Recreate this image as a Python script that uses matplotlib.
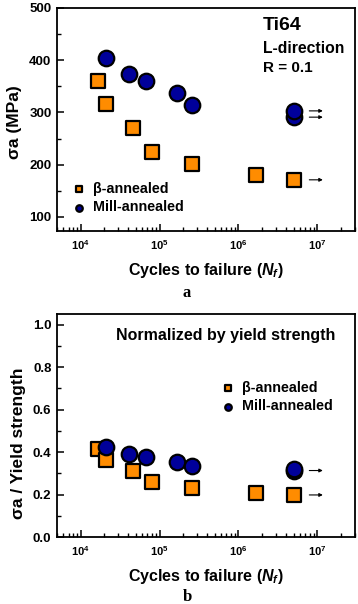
import matplotlib
matplotlib.use("Agg")
import matplotlib.pyplot as plt
from matplotlib.ticker import FuncFormatter, MultipleLocator, LogLocator
import numpy as np

plt.rcParams['font.family'] = ['Liberation Sans', 'DejaVu Sans']
plt.rcParams['font.weight'] = 'bold'
plt.rcParams['axes.labelweight'] = 'bold'
plt.rcParams['mathtext.fontset'] = 'custom'
plt.rcParams['mathtext.rm'] = 'Liberation Sans:bold'
plt.rcParams['mathtext.bf'] = 'Liberation Sans:bold'
plt.rcParams['mathtext.it'] = 'Liberation Sans:bold:italic'
plt.rcParams['axes.linewidth'] = 1.3

# ---- data ----
# beta-annealed (squares)
beta_N = [1.67e4, 2.07e4, 4.6e4, 8.1e4, 2.6e5, 1.66e6, 5.1e6]
beta_S = [360, 316, 270, 225, 202, 180, 171]
beta_norm = [0.414, 0.362, 0.311, 0.259, 0.233, 0.207, 0.198]

# mill-annealed (circles)
mill_N = [2.07e4, 4.1e4, 6.8e4, 1.67e5, 2.6e5, 5.1e6, 5.1e6]
mill_S = [405, 374, 360, 338, 315, 292, 303]
mill_norm = [0.426, 0.392, 0.379, 0.355, 0.332, 0.31, 0.32]

# run-outs (arrows)
beta_runout = [(5.1e6, 171)]
mill_runout = [(5.1e6, 303), (5.1e6, 291)]
beta_runout_norm = [(5.1e6, 0.198)]
mill_runout_norm = [(5.1e6, 0.313)]

orange = '#FF8C00'
navy = '#00009A'

fig = plt.figure(figsize=(3.58, 6.04), dpi=100)
ax1 = fig.add_axes([57/358, 1-231/604, 298/358, 223/604])
ax2 = fig.add_axes([57/358, 1-537/604, 298/358, 223/604])


def fmt_log(v, pos):
    e = int(round(np.log10(v)))
    return r'$\mathbf{10^{%d}}$' % e


def style(ax):
    ax.set_xscale('log')
    ax.set_xlim(5e3, 3e7)
    ax.xaxis.set_major_locator(LogLocator(base=10, numticks=10))
    ax.xaxis.set_minor_locator(LogLocator(base=10, subs=np.arange(2, 10), numticks=10))
    ax.xaxis.set_major_formatter(FuncFormatter(fmt_log))
    ax.tick_params(which='both', direction='in', top=False, right=False)
    ax.tick_params(axis='x', which='major', length=5, width=1.1, labelsize=8, pad=5)
    ax.tick_params(axis='x', which='minor', length=3, width=1.0)
    ax.tick_params(axis='y', which='major', length=5, width=1.1, labelsize=9.5, pad=4)
    ax.tick_params(axis='y', which='minor', length=3, width=1.0)
    ax.set_xlabel('Cycles to failure ($N_f$)', fontsize=11.5, labelpad=7)


def arrows(ax, pts):
    for x, y in pts:
        ax.annotate('', xy=(x * 2.3, y), xytext=(x * 1.55, y),
                    arrowprops=dict(arrowstyle='-|>', color='k', lw=0.8,
                                    mutation_scale=5, shrinkA=0, shrinkB=0))


# ---- panel a ----
style(ax1)
ax1.scatter(beta_N, beta_S, marker='s', s=95, c=orange, edgecolors='k',
            linewidths=1.6, zorder=3, label=u'\u03b2-annealed')
ax1.scatter(mill_N, mill_S, marker='o', s=125, c=navy, edgecolors='k',
            linewidths=1.6, zorder=3, label='Mill-annealed')
arrows(ax1, beta_runout)
arrows(ax1, mill_runout)
ax1.set_ylim(73, 500)
ax1.yaxis.set_major_locator(MultipleLocator(100))
ax1.yaxis.set_minor_locator(MultipleLocator(50))
ax1.set_ylabel(u'\u03c3a (MPa)', fontsize=12.5, labelpad=5)
ax1.yaxis.label.set_y(0.49)
ax1.text(0.69, 0.92, 'Ti64', transform=ax1.transAxes, fontsize=14,
         fontweight='bold', va='center')
ax1.text(0.69, 0.82, 'L-direction', transform=ax1.transAxes, fontsize=11.3,
         fontweight='bold', va='center')
ax1.text(0.69, 0.73, 'R = 0.1', transform=ax1.transAxes, fontsize=11,
         fontweight='bold', va='center')
ax1.legend(loc='lower left', bbox_to_anchor=(0.02, 0.03), frameon=False,
           markerscale=0.42, fontsize=10.3, handlelength=0.8, handletextpad=0.6,
           labelspacing=0.3, borderpad=0.2)

# ---- panel b ----
style(ax2)
ax2.scatter(beta_N, beta_norm, marker='s', s=95, c=orange, edgecolors='k',
            linewidths=1.6, zorder=3, label=u'\u03b2-annealed')
ax2.scatter(mill_N, mill_norm, marker='o', s=125, c=navy, edgecolors='k',
            linewidths=1.6, zorder=3, label='Mill-annealed')
arrows(ax2, beta_runout_norm)
arrows(ax2, mill_runout_norm)
ax2.set_ylim(0, 1.05)
ax2.yaxis.set_major_locator(MultipleLocator(0.2))
ax2.yaxis.set_minor_locator(MultipleLocator(0.1))
ax2.yaxis.set_major_formatter(FuncFormatter(lambda v, p: '%.1f' % v))
ax2.set_ylabel(u'\u03c3a / Yield strength', fontsize=12.5, labelpad=5)
ax2.yaxis.label.set_y(0.42)
ax2.text(0.567, 0.905, 'Normalized by yield strength', transform=ax2.transAxes,
         fontsize=11.5, fontweight='bold', ha='center', va='center')
ax2.legend(loc='lower left', bbox_to_anchor=(0.52, 0.51), frameon=False,
           markerscale=0.42, fontsize=10.3, handlelength=0.8, handletextpad=0.6,
           labelspacing=0.3, borderpad=0.2)

fig.text(187/358, 1-293/604, 'a', family=['Liberation Serif', 'DejaVu Serif'],
         fontsize=12, fontweight='bold', ha='center', va='center')
fig.text(187/358, 1-597/604, 'b', family=['Liberation Serif', 'DejaVu Serif'],
         fontsize=12, fontweight='bold', ha='center', va='center')

fig.savefig('out.png', dpi=100)
